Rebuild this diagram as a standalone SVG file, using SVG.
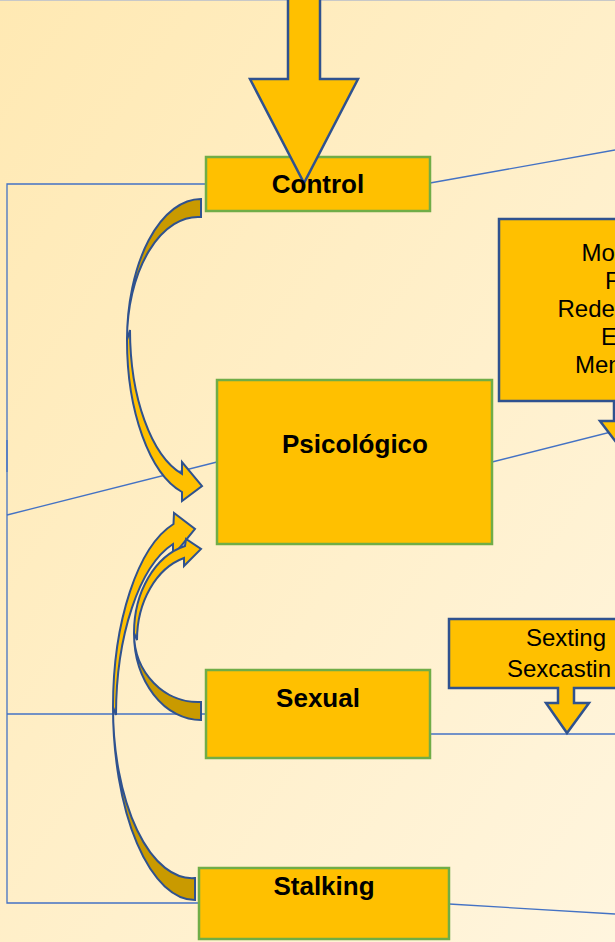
<svg xmlns="http://www.w3.org/2000/svg" width="615" height="942" viewBox="0 0 615 942">
  <defs>
    <linearGradient id="bg" x1="0" y1="0" x2="1" y2="1">
      <stop offset="0" stop-color="#FFE9B3"/>
      <stop offset="1" stop-color="#FFF5DE"/>
    </linearGradient>
    <style>
      .box { fill: #FFC000; stroke: #70AD47; stroke-width: 2.5; }
      .callout { fill: #FFC000; stroke: #2F528F; stroke-width: 2.5; stroke-linejoin: miter; }
      .lbl { font-family: "Liberation Sans", Arial, sans-serif; font-weight: bold; font-size: 26px; fill: #000; text-anchor: middle; }
      .txt { font-family: "Liberation Sans", Arial, sans-serif; font-size: 24px; fill: #000; }
      .conn { fill: none; stroke: #4472C4; stroke-width: 1.3; }
      .front { fill: #FFC000; stroke: #2F528F; stroke-width: 2; stroke-linejoin: miter; }
      .back { fill: #C99A00; stroke: #2F528F; stroke-width: 2; stroke-linejoin: miter; }
    </style>
  </defs>

  <rect x="0" y="0" width="615" height="942" fill="url(#bg)"/>
  <line x1="0" y1="0.5" x2="615" y2="0.5" stroke="#C8C8C8" stroke-width="1"/>

  <g id="connectors">
    <!-- left bracket lines -->
    <polyline class="conn" points="206,184 7,184 7,903 199,903"/>
    <line class="conn" x1="7" y1="440" x2="7" y2="472" stroke-width="2.2"/>
    <line class="conn" x1="7" y1="714" x2="206" y2="714"/>
    <line class="conn" x1="7" y1="515" x2="217" y2="462"/>
    <!-- right lines -->
    <line class="conn" x1="430" y1="183" x2="615" y2="150"/>
    <line class="conn" x1="492" y1="462" x2="615" y2="431"/>
    <line class="conn" x1="430" y1="734" x2="615" y2="734"/>
    <line class="conn" x1="449" y1="904" x2="615" y2="914"/>

    <!-- curved arrow: Control -> Psicológico -->
    <g id="arrow-control-psico">
      <path class="back" d="M201,199 A74,141 0 0 0 127,340 A71,123 0 0 1 201,217 Z"/>
      <path class="front" d="M127,340 A74,157 0 0 0 182,492 L182,501 L202,486 L182,462 L182,474 A71,149.5 0 0 1 130,330 Z"/>
    </g>
    <!-- curved arrow: Stalking -> Psicológico -->
    <g id="arrow-stalking-psico">
      <path class="back" d="M195,900 A82,193 0 0 1 113,707 A79,171 0 0 0 195,878 Z"/>
      <path class="front" d="M113,707 A82,189.6 0 0 1 173.5,524 L174,513 L195,529 L173,556 L173,544 A79,178 0 0 0 116,715 Z"/>
    </g>
    <!-- curved arrow: Sexual -> Psicológico -->
    <g id="arrow-sexual-psico">
      <path class="back" d="M201,720 A67,87 0 0 1 134,633 A64,69 0 0 0 201,702 Z"/>
      <path class="front" d="M134,633 A67,89.6 0 0 1 185,546 L186,539 L201,549 L184,566 L184,558 A64,85 0 0 0 137,640 Z"/>
    </g>
  </g>

  <g id="node-control">
    <rect class="box" x="206" y="157" width="224" height="54"/>
    <polygon id="input-arrow" class="callout" points="288,-3 320,-3 320,79 358,79 304,183 250,79 288,79"/>
    <text class="lbl" x="318" y="193">Control</text>
  </g>

  <g id="node-psicologico">
    <rect class="box" x="217" y="380" width="275" height="164"/>
    <text class="lbl" x="355" y="453">Psicológico</text>
  </g>

  <g id="node-sexual">
    <rect class="box" x="206" y="670" width="224" height="88"/>
    <text class="lbl" x="318" y="707">Sexual</text>
  </g>

  <g id="node-stalking">
    <rect class="box" x="199" y="868" width="250" height="71"/>
    <text class="lbl" x="324" y="895">Stalking</text>
  </g>

  <g id="node-medios">
    <path class="callout" d="M499,219 H745 V401 H630 V421 H644 L622,450 L600,421 H614 V401 H499 Z"/>
    <text class="txt" x="581.5" y="261">Mo</text>
    <text class="txt" x="605" y="289">F</text>
    <text class="txt" x="557.5" y="317">Redes</text>
    <text class="txt" x="601" y="345">E-</text>
    <text class="txt" x="575" y="373">Men</text>
  </g>

  <g id="node-sexting">
    <path class="callout" d="M449,619 H685 V688 H574 V703 H589 L567,733 L546,703 H558 V688 H449 Z"/>
    <text class="txt" x="526" y="646">Sexting</text>
    <text class="txt" x="507" y="677">Sexcastin</text>
  </g>
</svg>
